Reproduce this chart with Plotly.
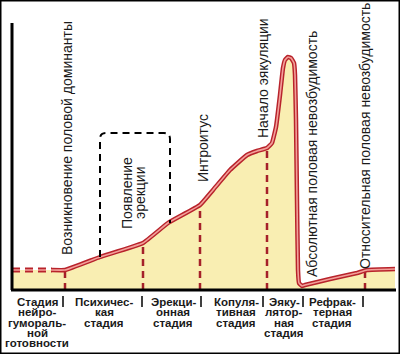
import plotly.graph_objects as go

# ---- data (time along x, arousal level along y; baseline = 0) ----
curve_x = [12, 65, 100, 143, 168, 200, 213, 230, 247, 257, 267, 272, 276, 280, 283, 285, 288, 291, 294, 295, 296, 297, 298, 299, 302, 305, 330, 357, 367, 395]
curve_y = [20, 20, 33, 47, 67, 85, 100, 120, 135, 139, 142, 147, 163, 195, 222, 230, 233, 232, 227, 215, 170, 90, 20, 7, 4, 5, 11, 17, 20, 21]
dashed_until = 52          # x where the dashed (latent) part of the curve ends

stage_bounds = [65, 143, 200, 267, 365]          # dashed verticals under the curve
stage_levels = [20, 47, 85, 142, 20]
separators = [63, 142, 201, 263, 303, 363]

stage_labels = [
    ["Стадия", "нейро-", "гумораль-", "ной", "готовности"],
    ["Психичес-", "кая", "стадия"],
    ["Эрекци-", "онная", "стадия"],
    ["Копуля-", "тивная", "стадия"],
    ["Эяку-", "лятор-", "ная", "стадия"],
    ["Рефрак-", "терная", "стадия"],
]
stage_label_x = [37, 104, 173, 236, 284, 332]

event_labels = [
    "Возникновение половой доминанты",
    "Появление",
    "эрекции",
    "Интроитус",
    "Начало эякуляции",
    "Абсолютная половая невозбудимость",
    "Относительная половая невозбудимость",
]
event_x = [67, 127, 140, 203, 263, 312, 365]
event_y = [152, 97, 97, 142, 212, 136, 154]

bracket_x = [100, 170]
bracket_top = 157
bracket_bottom = [33, 67]

FILL = "#f9eeb2"
DARK = "#b8232b"
LIGHT = "#f3a09a"
FONT = "Liberation Sans, Arial, sans-serif"

fig = go.Figure()

# filled area
fig.add_trace(go.Scatter(x=curve_x, y=curve_y, mode="lines", fill="tozeroy",
                         fillcolor=FILL, line=dict(width=0), hoverinfo="skip"))

# dashed vertical stage boundaries
for bx, by in zip(stage_bounds, stage_levels):
    fig.add_trace(go.Scatter(x=[bx, bx], y=[0, by], mode="lines",
                             line=dict(color="#a5202a", width=2.5, dash="7px,5px"),
                             hoverinfo="skip"))

# split curve into dashed + solid parts
dx = [x for x in curve_x if x <= dashed_until]
dy = [y for x, y in zip(curve_x, curve_y) if x <= dashed_until]
dx.append(dashed_until); dy.append(curve_y[0])
sx = [dashed_until] + [x for x in curve_x if x > dashed_until]
sy = [curve_y[0]] + [y for x, y in zip(curve_x, curve_y) if x > dashed_until]

fig.add_trace(go.Scatter(x=dx, y=dy, mode="lines",
                         line=dict(color=DARK, width=5, dash="8px,5px"), hoverinfo="skip"))
fig.add_trace(go.Scatter(x=dx, y=dy, mode="lines",
                         line=dict(color=LIGHT, width=1.5, dash="8px,5px"), hoverinfo="skip"))
fig.add_trace(go.Scatter(x=sx, y=sy, mode="lines",
                         line=dict(color=DARK, width=4.5, shape="spline", smoothing=0.3),
                         hoverinfo="skip"))
fig.add_trace(go.Scatter(x=sx, y=sy, mode="lines",
                         line=dict(color=LIGHT, width=1.6, shape="spline", smoothing=0.3),
                         hoverinfo="skip"))

shapes = []
# axes
shapes.append(dict(type="line", x0=12, x1=12, y0=0, y1=267, xref="x", yref="y",
                   line=dict(color="black", width=3)))
shapes.append(dict(type="line", x0=11, x1=396, y0=0, y1=0, xref="x", yref="y",
                   line=dict(color="black", width=3)))
# bracket
bl, br = bracket_x
r = 6
path = (f"M {bl},{bracket_bottom[0]} L {bl},{bracket_top - r} "
        f"Q {bl},{bracket_top} {bl + r},{bracket_top} L {br - r},{bracket_top} "
        f"Q {br},{bracket_top} {br},{bracket_top - r} L {br},{bracket_bottom[1]}")
shapes.append(dict(type="path", path=path, xref="x", yref="y",
                   line=dict(color="black", width=2, dash="7px,5px")))
# separators
for sxp in separators:
    shapes.append(dict(type="line", x0=sxp, x1=sxp, y0=-6, y1=-17, xref="x", yref="y",
                       line=dict(color="black", width=1.5)))
# frame
shapes.append(dict(type="rect", x0=0, x1=1, y0=0, y1=1, xref="paper", yref="paper",
                   line=dict(color="black", width=3)))

annotations = []
for lines, cx in zip(stage_labels, stage_label_x):
    for i, t in enumerate(lines):
        annotations.append(dict(x=cx, y=-12 - 10.3 * i, text=f"<b>{t}</b>", showarrow=False,
                                xanchor="center", yanchor="middle",
                                font=dict(family=FONT, size=11.5, color="#1a1a1a")))
for t, x, y in zip(event_labels, event_x, event_y):
    annotations.append(dict(x=x, y=y, text=t, textangle=-90, showarrow=False,
                            xanchor="center", yanchor="middle",
                            font=dict(family=FONT, size=14, color="#1a1a1a")))

fig.update_layout(
    width=400, height=354, margin=dict(l=0, r=0, t=0, b=0),
    paper_bgcolor="white", plot_bgcolor="white", showlegend=False,
    xaxis=dict(range=[0, 400], visible=False, fixedrange=True),
    yaxis=dict(range=[-64, 290], visible=False, fixedrange=True),
    shapes=shapes, annotations=annotations,
)

fig.write_html("out.html")
